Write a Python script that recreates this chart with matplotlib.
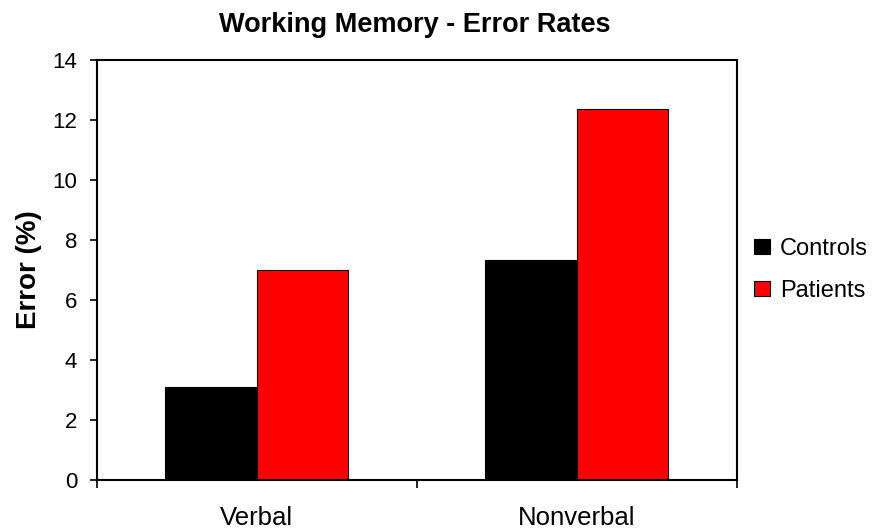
import numpy as np
import matplotlib
matplotlib.use("Agg")
from matplotlib import pyplot as plt

categories = ["Verbal", "Nonverbal"]
controls = [3.1, 7.35]
patients = [7.0, 12.35]

plt.rcParams['font.family'] = ['Liberation Sans', 'DejaVu Sans']

fig = plt.figure(figsize=(8.79, 5.29), dpi=100)
ax = fig.add_axes([0.110, 0.0926, 0.728, 0.794])

x = np.arange(len(categories))
w = 0.287
ax.bar(x - w / 2, controls, w, color="black", edgecolor="black", linewidth=0.8, label="Controls")
ax.bar(x + w / 2, patients, w, color="#ff0000", edgecolor="black", linewidth=0.8, label="Patients")

ax.set_xlim(-0.5, 1.5)
ax.set_ylim(0, 14)
ax.set_yticks(range(0, 15, 2))
ax.tick_params(axis="y", labelsize=16, length=5, width=1.2, direction="out", pad=9)

# category boundary ticks, labels in the middle without ticks
ax.set_xticks([-0.5, 0.5, 1.5])
ax.set_xticklabels([])
ax.tick_params(axis="x", length=6, width=1.2, direction="out")
for i, c in enumerate(categories):
    ax.text(i, -1.25, c, ha="center", va="center", fontsize=18.5)

for s in ax.spines.values():
    s.set_linewidth(1.5)

ax.yaxis.set_label_coords(-0.085, 0.5)
ax.set_ylabel("Error (%)", fontsize=20, fontweight="bold")
fig.text(0.472, 0.952, "Working Memory - Error Rates", ha="center", va="center",
         fontsize=19.5, fontweight="bold")

fig.legend(loc="center left", bbox_to_anchor=(0.858, 0.49), frameon=False, fontsize=17,
           handlelength=0.65, handleheight=0.65, handletextpad=0.45, labelspacing=0.85,
           borderpad=0, borderaxespad=0)

fig.savefig("out.png", dpi=100)
